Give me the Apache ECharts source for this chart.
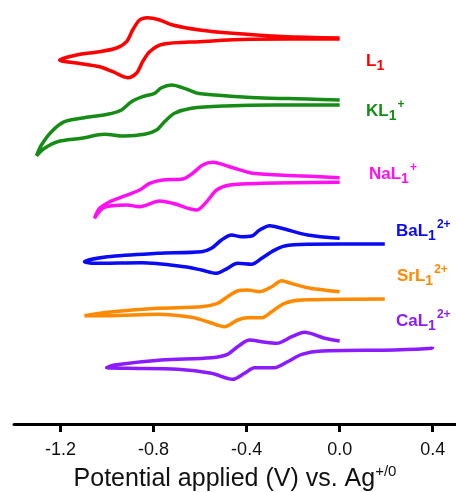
<!DOCTYPE html>
<html>
<head>
<meta charset="utf-8">
<script src="https://cdn.jsdelivr.net/npm/echarts@6/dist/echarts.min.js"></script>
<style>
html,body{margin:0;padding:0;background:#fff;}
#chart{width:456px;height:492px;}
</style>
</head>
<body>
<div id="chart"></div>
<script>
// Potential (V vs Ag+/0), current (arbitrary, stacked offsets)
const tickValues = [-1.2, -0.8, -0.4, 0.0, 0.4];

const L1 = [[0,386],[-0.245,387.5],[-0.46,390.7],[-0.602,394],[-0.718,399],[-0.774,404],[-0.826,406.3],[-0.86,404],[-0.89,394],[-0.916,382.3],[-0.959,376],[-1.032,372.3],[-1.131,369],[-1.204,364],[-1.131,361],[-1.032,357.3],[-0.975,352.3],[-0.912,346.3],[-0.873,351],[-0.847,362.3],[-0.817,372.3],[-0.761,379.7],[-0.602,382.3],[-0.387,384.7],[0,385]];

const KL1 = [[0,324],[-0.138,325],[-0.353,326.3],[-0.495,328.3],[-0.611,330.7],[-0.667,335.7],[-0.723,339],[-0.766,336.3],[-0.796,330.7],[-0.847,327.3],[-0.895,322.3],[-0.938,314],[-0.998,309.7],[-1.097,306.3],[-1.183,302.3],[-1.239,292.3],[-1.282,279],[-1.303,268.3],[-1.269,275.7],[-1.213,282.3],[-1.11,285.7],[-1.011,289.7],[-0.925,288],[-0.839,289.7],[-0.787,294],[-0.753,302.3],[-0.71,310.7],[-0.637,315.7],[-0.495,318],[-0.28,319],[0,319]];

const NaL1 = [[0,246.3],[-0.185,248.3],[-0.374,250.7],[-0.473,257.3],[-0.546,261.7],[-0.589,259],[-0.632,250.7],[-0.675,245],[-0.761,244],[-0.817,240.7],[-0.86,234],[-0.933,227.3],[-0.989,222.3],[-1.032,215.7],[-1.054,205.7],[-1.019,215.7],[-0.976,218.3],[-0.916,219],[-0.86,217.3],[-0.774,223],[-0.718,220.7],[-0.615,214],[-0.572,222.3],[-0.529,234],[-0.473,239],[-0.331,240.7],[0,241.7]];

const BaL1 = [[0,185.7],[-0.138,189],[-0.249,195.7],[-0.301,198.3],[-0.344,194],[-0.378,188],[-0.422,187.3],[-0.465,189],[-0.508,184],[-0.551,175.7],[-0.594,172.3],[-0.783,170.7],[-0.998,167.3],[-1.097,162.3],[-1.054,160.7],[-0.852,161.3],[-0.667,157.3],[-0.594,154],[-0.529,150.7],[-0.482,155.7],[-0.439,160.7],[-0.378,159.7],[-0.335,165.7],[-0.292,172.3],[-0.237,178],[-0.138,179.7],[0.194,180]];

const SrL1 = [[0,132.3],[-0.138,136.3],[-0.224,141.7],[-0.249,143.3],[-0.292,137.3],[-0.344,132.3],[-0.396,134],[-0.439,133],[-0.482,127.3],[-0.525,120.7],[-0.594,117.3],[-0.783,115.7],[-0.998,111.7],[-1.097,108.3],[-0.998,108.3],[-0.783,109.7],[-0.637,106.7],[-0.568,102.3],[-0.495,97.3],[-0.439,104],[-0.396,106.3],[-0.335,106.3],[-0.292,112.3],[-0.237,120.7],[-0.163,124],[0.194,125]];

const CaL1 = [[0,83],[-0.065,85.7],[-0.151,91.7],[-0.206,87.3],[-0.271,80.7],[-0.335,82.3],[-0.387,84],[-0.439,77.3],[-0.482,69.7],[-0.551,66.3],[-0.766,64],[-0.968,59],[-1.002,56.3],[-0.912,55.7],[-0.697,54.7],[-0.551,50.7],[-0.46,44.7],[-0.409,50.7],[-0.366,56.3],[-0.28,56.3],[-0.224,62.3],[-0.163,69.7],[-0.077,73],[0.237,74],[0.396,75.7],[0.4,77.3]];

const seriesNames = ['L1', 'KL1+', 'NaL1+', 'BaL1 2+', 'SrL1 2+', 'CaL1 2+'];
const seriesData = [L1, KL1, NaL1, BaL1, SrL1, CaL1];
const colors = ['#ff0000', '#168c16', '#ff10f0', '#0a0af5', '#ff8a00', '#8a1cff'];
const labelMain = ['L', 'KL', 'NaL', 'BaL', 'SrL', 'CaL'];
const labelSup = ['', '+', '+', '2+', '2+', '2+'];

const chart = echarts.init(document.getElementById('chart'), null, {renderer: 'canvas'});

const labelPos = [[366, 46], [366, 96], [369, 159], [396, 216], [397, 261], [396, 306]];

const titles = labelMain.map((m, i) => ({
  text: '{m|' + m + '}{sub|1}' + (labelSup[i] ? '{sup|' + labelSup[i] + '}' : ''),
  left: labelPos[i][0],
  top: labelPos[i][1],
  padding: 0,
  textStyle: {
    rich: {
      m: {fontSize: 17, fontWeight: 'bold', color: colors[i], fontFamily: 'Liberation Sans', lineHeight: 30, verticalAlign: 'middle'},
      sub: {fontSize: 14, fontWeight: 'bold', color: colors[i], fontFamily: 'Liberation Sans', lineHeight: 14, padding: [10, 0, 0, 0], verticalAlign: 'middle'},
      sup: {fontSize: 12, fontWeight: 'bold', color: colors[i], fontFamily: 'Liberation Sans', lineHeight: 12, padding: [0, 0, 12, 1], verticalAlign: 'middle'}
    }
  }
}));

const option = {
  animation: false,
  backgroundColor: '#fff',
  title: titles,
  grid: {left: 14, right: 0, top: 0, bottom: 68, outerBoundsMode: 'none', containLabel: false},
  xAxis: {
    type: 'value',
    min: -1.4,
    max: 0.5,
    interval: 0.2,
    splitLine: {show: false},
    axisLine: {show: true, onZero: false, lineStyle: {color: '#000', width: 3}},
    axisTick: {show: true, length: 8, customValues: tickValues, lineStyle: {color: '#000', width: 3}},
    axisLabel: {
      customValues: tickValues,
      fontSize: 18, color: '#111', fontFamily: 'Liberation Sans', margin: 17,
      formatter: v => v.toFixed(1)
    },
    name: '{m|Potential applied (V) vs. Ag}{s|+/0}',
    nameLocation: 'middle',
    nameGap: 27,
    nameTextStyle: {
      rich: {
        m: {fontSize: 25, color: '#111', fontFamily: 'Liberation Sans', lineHeight: 32, verticalAlign: 'middle'},
        s: {fontSize: 15, color: '#111', fontFamily: 'Liberation Sans', lineHeight: 15, padding: [0, 0, 16, 0], verticalAlign: 'middle'}
      }
    }
  },
  yAxis: {type: 'value', min: 0, max: 424, show: false},
  series: seriesData.map((d, i) => ({
    name: seriesNames[i],
    type: 'line',
    data: d,
    showSymbol: false,
    smooth: 0.3,
    clip: false,
    lineStyle: {color: colors[i], width: 3.5},
    itemStyle: {color: colors[i]}
  }))
};

chart.setOption(option);
</script>
</body>
</html>
